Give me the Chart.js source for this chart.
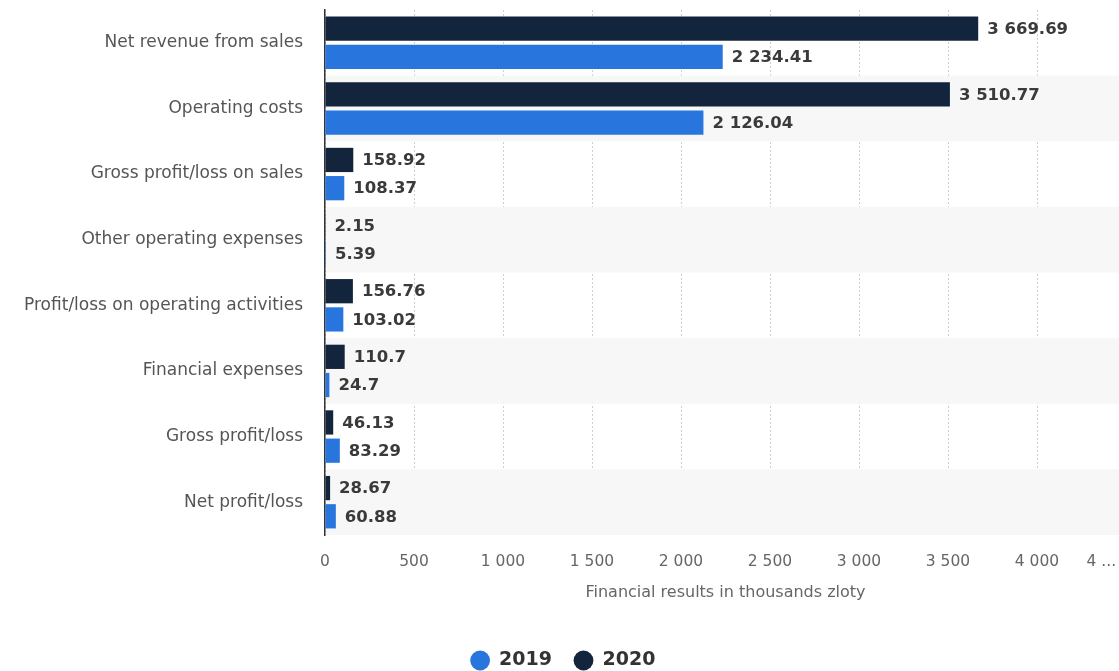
<!DOCTYPE html>
<html>
<head>
<meta charset="utf-8">
<script src="https://cdn.jsdelivr.net/npm/chart.js@4.4.1/dist/chart.umd.min.js"></script>
<style>
html,body{margin:0;padding:0;background:#fff;overflow:hidden;}
#wrap{width:1140px;height:671px;position:relative;}
</style>
</head>
<body>
<div id="wrap"><canvas id="c"></canvas></div>
<script>
const categories = ["Net revenue from sales","Operating costs","Gross profit/loss on sales","Other operating expenses","Profit/loss on operating activities","Financial expenses","Gross profit/loss","Net profit/loss"];
const values2020 = [3669.69, 3510.77, 158.92, 2.15, 156.76, 110.7, 46.13, 28.67];
const values2019 = [2234.41, 2126.04, 108.37, 5.39, 103.02, 24.7, 83.29, 60.88];
const seriesNames = ["2020", "2019"];
const tickValues = [0,500,1000,1500,2000,2500,3000,3500,4000,4500];
const tickLabels = ["0","500","1 000","1 500","2 000","2 500","3 000","3 500","4 000","4 ...          "];
const axisTitle = "Financial results in thousands zloty";

const FONT = '"DejaVu Sans", Verdana, sans-serif';

function fmt(v){
  const parts = String(v).split('.');
  parts[0] = parts[0].replace(/\B(?=(\d{3})+(?!\d))/g, ' ');
  return parts.join('.');
}

const bandPlugin = {
  id:'bands',
  beforeDatasetsDraw(chart){
    const {ctx, chartArea, scales:{y}} = chart;
    const pitch = (chartArea.bottom - chartArea.top) / categories.length;
    ctx.save();
    ctx.fillStyle = '#f7f7f7';
    categories.forEach((c,i)=>{
      if(i%2===1){
        const cy = y.getPixelForValue(i);
        ctx.fillRect(chartArea.left+1, cy-pitch/2, chart.width-chartArea.left, pitch);
      }
    });
    ctx.restore();
  }
};
const labelPlugin = {
  id:'vlabels',
  afterDatasetsDraw(chart){
    const ctx = chart.ctx;
    ctx.save();
    ctx.font = 'bold 16.5px ' + FONT;
    ctx.fillStyle = '#3a3a3a';
    ctx.textAlign = 'left';
    ctx.textBaseline = 'middle';
    chart.data.datasets.forEach((ds,di)=>{
      chart.getDatasetMeta(di).data.forEach((bar,i)=>{
        ctx.fillText(fmt(ds.data[i]), bar.x + 9, bar.y + 1);
      });
    });
    ctx.restore();
  }
};
const legendSizer = {
  id:'legendSizer',
  afterInit(chart){
    const lg = chart.legend;
    if(!lg) return;
    const f = lg.fit;
    lg.fit = function(){ f.call(this); this.height = 42; };
  }
};

new Chart(document.getElementById('c'), {
  type:'bar',
  data:{
    labels:categories,
    datasets:[
      {label:seriesNames[0], data:values2020, backgroundColor:'#13253d', categoryPercentage:0.86, barPercentage:0.86},
      {label:seriesNames[1], data:values2019, backgroundColor:'#2876dd', categoryPercentage:0.86, barPercentage:0.86}
    ]
  },
  options:{
    indexAxis:'y',
    responsive:true,
    maintainAspectRatio:false,
    animation:false,
    layout:{padding:{top:10, right:14, left:0, bottom:0}},
    scales:{
      x:{
        min:0, max:4500,
        afterBuildTicks(scale){ scale.ticks = tickValues.map(v=>({value:v})); },
        afterFit(scale){ scale.height = 94; scale.paddingLeft = 0; scale.paddingRight = 0; },
        ticks:{
          callback:(v,i)=>tickLabels[i],
          color:'#666', font:{family:FONT, size:15.5}, padding:18, maxRotation:0, autoSkip:false
        },
        grid:{color:'#cfcfcf', drawTicks:false, tickLength:0},
        border:{display:false, dash:[2,2]},
        title:{display:true, text:axisTitle, color:'#666', font:{family:FONT, size:16}, padding:{top:4, bottom:27}}
      },
      y:{
        afterFit(scale){ scale.width = 325; scale.paddingTop = 0; scale.paddingBottom = 0; },
        ticks:{color:'#555', font:{family:FONT, size:17}, padding:14},
        grid:{display:false},
        border:{display:true, color:'#333', width:1.5}
      }
    },
    plugins:{
      legend:{
        position:'bottom', reverse:true,
        labels:{usePointStyle:true, pointStyle:'circle', boxWidth:19, boxHeight:14, padding:22,
          color:'#333', font:{family:FONT, size:19, weight:'bold'}}
      },
      tooltip:{enabled:false}
    }
  },
  plugins:[bandPlugin, labelPlugin, legendSizer]
});
</script>
</body>
</html>
